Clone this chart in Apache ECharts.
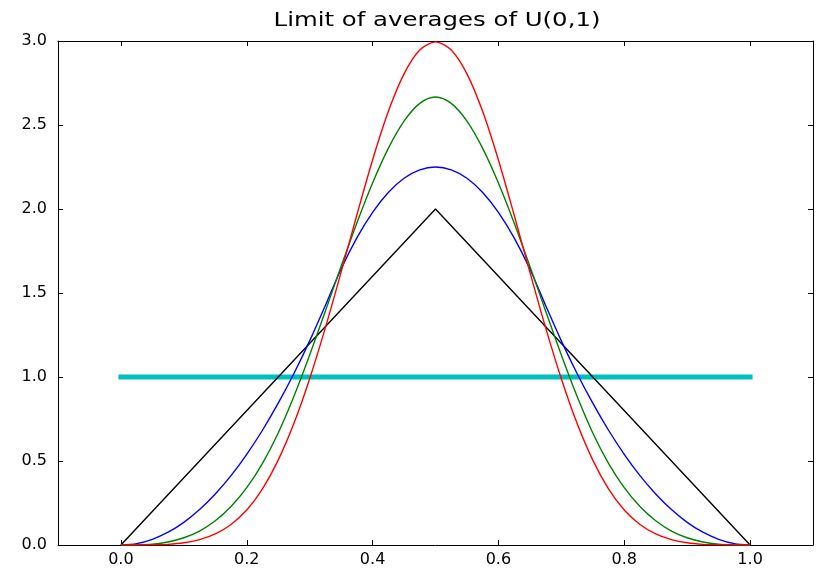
<!DOCTYPE html>
<html>
<head>
<meta charset="utf-8">
<script src="https://cdn.jsdelivr.net/npm/echarts@6/dist/echarts.min.js"></script>
<style>
  html, body { margin: 0; padding: 0; background: #fff; }
  #chart { width: 820px; height: 568px; }
</style>
</head>
<body>
<div id="chart"></div>
<script>
// x positions of the sampled points
const xs = [0, 0.025, 0.05, 0.075, 0.1, 0.125, 0.15, 0.175, 0.2, 0.225, 0.25, 0.275, 0.3, 0.325, 0.35, 0.375, 0.4, 0.425, 0.45, 0.475, 0.5,
  0.525, 0.55, 0.575, 0.6, 0.625, 0.65, 0.675, 0.7, 0.725, 0.75, 0.775, 0.8, 0.825, 0.85, 0.875, 0.9, 0.925, 0.95, 0.975, 1];

// n = 1 (uniform) and n = 2 (triangle)
const uniX = [0, 1];
const uniY = [1, 1];
const triX = [0, 0.5, 1];
const triY = [0, 2, 0];

// n = 3 (blue)
const blueY = [0, 0.008, 0.034, 0.076, 0.135, 0.211, 0.304, 0.413, 0.54, 0.683, 0.844, 1.021, 1.215, 1.426, 1.643, 1.828, 1.98, 2.098, 2.183, 2.233, 2.25,
  2.233, 2.183, 2.098, 1.98, 1.828, 1.643, 1.426, 1.215, 1.021, 0.844, 0.683, 0.54, 0.413, 0.304, 0.211, 0.135, 0.076, 0.034, 0.008, 0];
// n = 4 (green)
const greenY = [0, 0.001, 0.005, 0.018, 0.043, 0.083, 0.144, 0.229, 0.341, 0.486, 0.667, 0.885, 1.131, 1.393, 1.659, 1.917, 2.155, 2.361, 2.523, 2.629, 2.667,
  2.629, 2.523, 2.361, 2.155, 1.917, 1.659, 1.393, 1.131, 0.885, 0.667, 0.486, 0.341, 0.229, 0.144, 0.083, 0.043, 0.018, 0.005, 0.001, 0];
// n = 5 (red)
const redY = [0, 0, 0.001, 0.004, 0.013, 0.032, 0.066, 0.122, 0.208, 0.334, 0.505, 0.724, 0.99, 1.294, 1.624, 1.964, 2.292, 2.58, 2.804, 2.946, 2.995,
  2.946, 2.804, 2.58, 2.292, 1.964, 1.624, 1.294, 0.99, 0.724, 0.505, 0.334, 0.208, 0.122, 0.066, 0.032, 0.013, 0.004, 0.001, 0, 0];

const xTicks = [0, 0.2, 0.4, 0.6, 0.8, 1.0];
const yTicks = [0, 0.5, 1.0, 1.5, 2.0, 2.5, 3.0];

function pairs(x, y) {
  return x.map((v, i) => [v, y[i]]);
}

const font = 'DejaVu Sans';
const tickStyle = { show: true, inside: true, length: 5, lineStyle: { color: '#000', width: 1 } };
const lineAxis = { show: true, onZero: false, lineStyle: { color: '#000', width: 1 } };

const chart = echarts.init(document.getElementById('chart'));
chart.setOption({
  animation: false,
  // title drawn as a graphic text so it can be stretched like the source image
  graphic: [{
    type: 'text', x: 437, y: 21, scaleX: 1.22,
    style: {
      text: 'Limit of averages of U(0,1)', align: 'center', verticalAlign: 'middle',
      font: '20px "DejaVu Sans"', fill: '#000'
    }
  }],
  grid: { left: 58, right: 7, top: 41, bottom: 20 },
  xAxis: [
    {
      type: 'value', min: -0.1, max: 1.1,
      axisLine: lineAxis,
      axisTick: Object.assign({ customValues: xTicks }, tickStyle),
      axisLabel: {
        customValues: xTicks, margin: 7, color: '#000', fontFamily: font, fontSize: 16,
        formatter: v => v.toFixed(1)
      },
      splitLine: { show: false }
    },
    {
      type: 'value', min: -0.1, max: 1.1, position: 'top',
      axisLine: lineAxis,
      axisTick: Object.assign({ customValues: xTicks }, tickStyle),
      axisLabel: { show: false },
      splitLine: { show: false }
    }
  ],
  yAxis: [
    {
      type: 'value', min: 0, max: 3,
      axisLine: lineAxis,
      axisTick: Object.assign({ customValues: yTicks }, tickStyle),
      axisLabel: {
        customValues: yTicks, margin: 11, color: '#000', fontFamily: font, fontSize: 16,
        formatter: v => v.toFixed(1)
      },
      splitLine: { show: false }
    },
    {
      type: 'value', min: 0, max: 3, position: 'right',
      axisLine: lineAxis,
      axisTick: Object.assign({ customValues: yTicks }, tickStyle),
      axisLabel: { show: false },
      splitLine: { show: false }
    }
  ],
  series: [
    {
      type: 'line', data: pairs(uniX, uniY), symbol: 'none',
      lineStyle: { color: '#00bfbf', width: 5, cap: 'square' }
    },
    {
      type: 'line', data: pairs(triX, triY), symbol: 'none',
      lineStyle: { color: '#000', width: 1.4 }
    },
    {
      type: 'line', data: pairs(xs, blueY), symbol: 'none', smooth: 0.3,
      lineStyle: { color: '#0000ff', width: 1.4 }
    },
    {
      type: 'line', data: pairs(xs, greenY), symbol: 'none', smooth: 0.3,
      lineStyle: { color: '#008000', width: 1.4 }
    },
    {
      type: 'line', data: pairs(xs, redY), symbol: 'none', smooth: 0.3,
      lineStyle: { color: '#ff0000', width: 1.4 }
    }
  ]
});
</script>
</body>
</html>
